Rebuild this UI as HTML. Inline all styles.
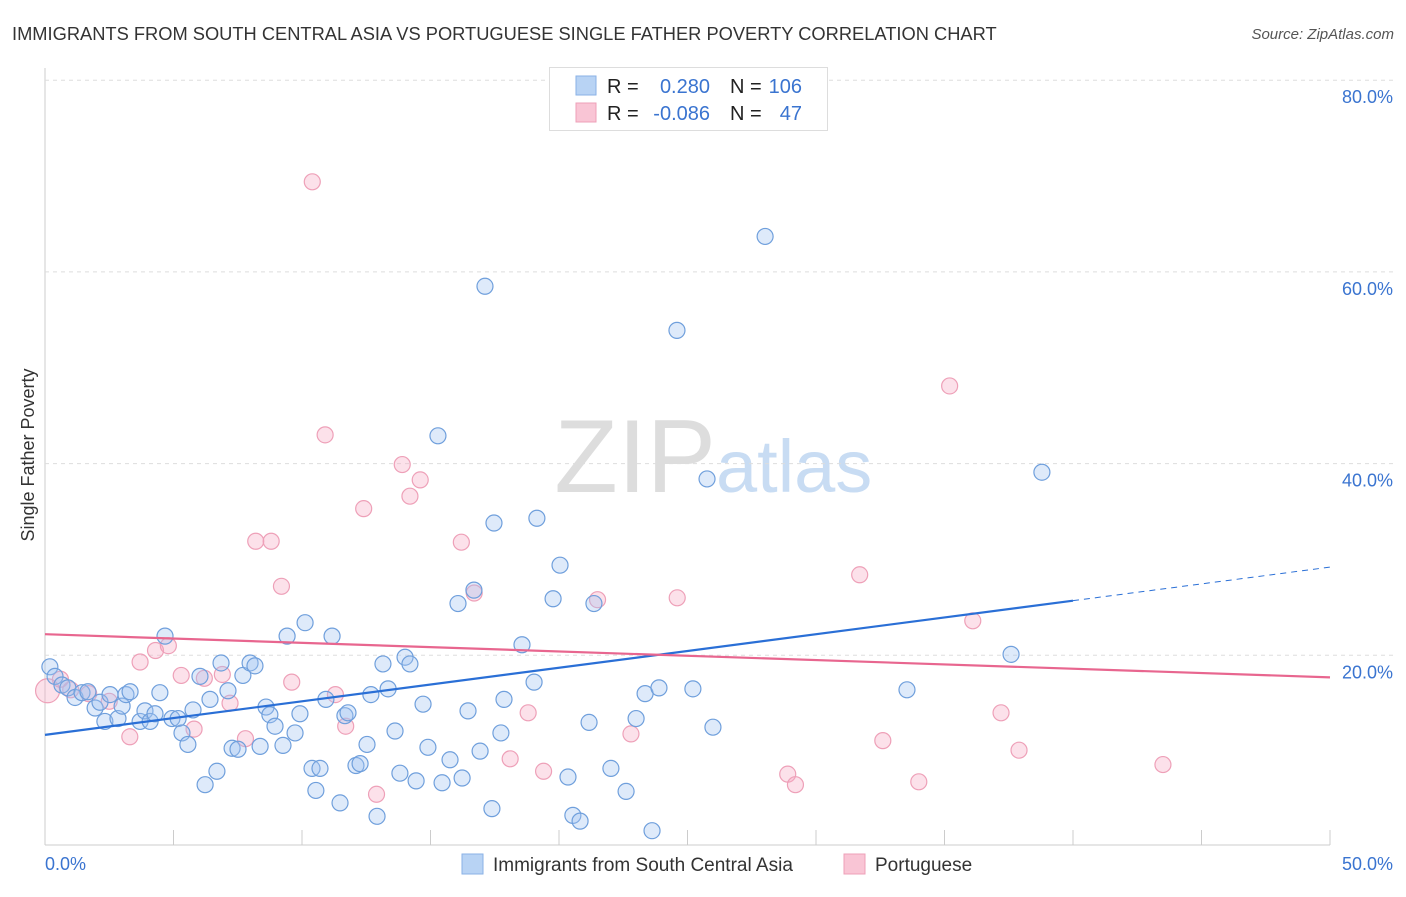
<!DOCTYPE html>
<html><head><meta charset="utf-8"><style>
body{margin:0;background:#fff;font-family:"Liberation Sans",sans-serif}
svg text{font-family:"Liberation Sans",sans-serif}
</style></head><body>
<svg id="c" width="1406" height="892" xmlns="http://www.w3.org/2000/svg">
<text x="12" y="40" font-size="18.3" fill="#333">IMMIGRANTS FROM SOUTH CENTRAL ASIA VS PORTUGUESE SINGLE FATHER POVERTY CORRELATION CHART</text>
<text x="1394" y="39" font-size="15" fill="#555" text-anchor="end" font-style="italic">Source: ZipAtlas.com</text>
<text x="716" y="492" font-size="104" fill="#ddd" text-anchor="end" font-family="Liberation Serif">ZIP</text>
<text x="716" y="492" font-size="74" fill="#c8dcf3">atlas</text>
<text transform="translate(34,455) rotate(-90)" font-size="18" fill="#333" text-anchor="middle">Single Father Poverty</text>
<g id="grid"></g><g id="ticks"></g><g id="pts"></g><g id="lines"></g>
<g>
<rect x="549.5" y="67.5" width="278" height="63" fill="#fff" stroke="#ddd"/>
<rect x="576" y="76" width="20" height="19" fill="#b8d3f4" stroke="#8ab2e6"/>
<rect x="576" y="103" width="20" height="19" fill="#f9c5d5" stroke="#eea0b8"/>
<text x="607" y="93" font-size="20" fill="#222">R =</text><text x="710" y="93" font-size="20" fill="#3a74d0" text-anchor="end">0.280</text>
<text x="730" y="93" font-size="20" fill="#222">N =</text><text x="802" y="93" font-size="20" fill="#3a74d0" text-anchor="end">106</text>
<text x="607" y="120" font-size="20" fill="#222">R =</text><text x="710" y="120" font-size="20" fill="#3a74d0" text-anchor="end">-0.086</text>
<text x="730" y="120" font-size="20" fill="#222">N =</text><text x="802" y="120" font-size="20" fill="#3a74d0" text-anchor="end">47</text>
</g>
<g>
<rect x="462" y="854" width="21" height="20" fill="#b8d3f4" stroke="#8ab2e6"/>
<text x="493" y="871" font-size="19" fill="#333">Immigrants from South Central Asia</text>
<rect x="844" y="854" width="21" height="20" fill="#f9c5d5" stroke="#eea0b8"/>
<text x="875" y="871" font-size="19" fill="#333">Portuguese</text>
</g>
<text x="45" y="870" font-size="18" fill="#3a74d0">0.0%</text>
<text x="1393" y="870" font-size="18" fill="#3a74d0" text-anchor="end">50.0%</text>
</svg>
<script>
const blueX=[0.19,0.39,0.66,0.89,1.17,1.44,1.67,1.95,2.14,2.33,2.53,2.84,3.0,3.15,3.31,3.7,3.89,4.09,4.28,4.47,4.67,4.94,5.18,5.33,5.56,5.76,6.03,6.23,6.42,6.69,6.85,7.12,7.28,7.51,7.7,7.98,8.17,8.37,8.6,8.75,8.95,9.26,9.42,9.73,9.92,10.12,10.39,10.54,10.7,10.93,11.17,11.48,11.67,11.79,12.1,12.26,12.53,12.68,12.92,13.15,13.35,13.62,13.81,14.01,14.2,14.44,14.71,14.9,15.29,15.45,15.76,16.07,16.23,16.46,16.69,16.93,17.12,17.39,17.47,17.74,17.86,18.56,19.03,19.14,19.77,20.04,20.35,20.54,20.82,21.17,21.36,22.02,22.61,23.0,23.35,23.62,23.89,24.59,25.21,25.76,25.99,28.02,33.54,37.59,38.79];
const blueY=[18.8,17.8,16.9,16.6,15.6,16.1,16.2,14.5,15.1,13.1,15.9,13.4,14.7,15.9,16.2,13.1,14.2,13.1,13.9,16.1,22.0,13.4,13.4,11.9,10.7,14.3,17.8,6.5,15.4,7.9,19.2,16.3,10.3,10.2,17.9,19.2,18.9,10.5,14.6,13.8,12.6,10.6,22.0,11.9,13.9,23.4,8.2,5.9,8.2,15.4,22.0,4.6,13.7,14.0,8.5,8.7,10.7,15.9,3.2,19.1,16.5,12.1,7.7,19.8,19.1,6.9,14.9,10.4,42.9,6.7,9.1,25.4,7.2,14.2,26.8,10.0,58.5,4.0,33.8,11.9,15.4,21.1,17.2,34.3,25.9,29.4,7.3,3.3,2.7,13.0,25.4,8.2,5.8,13.4,16.0,1.7,16.6,53.9,16.5,38.4,12.5,63.7,16.4,20.1,39.1];
const pinkX=[0.1,0.6,1.0,1.7,2.5,3.3,3.7,4.3,4.8,5.3,5.8,6.2,6.9,7.2,7.8,8.2,8.8,9.2,9.6,10.4,10.9,11.3,11.7,12.4,12.9,13.9,14.2,14.6,16.2,16.7,18.1,18.8,19.4,21.5,22.8,24.6,28.9,29.2,31.7,32.6,34.0,35.2,36.1,37.2,37.9,43.5];
const pinkY=[16.3,17.5,16.4,16.0,15.2,11.5,19.3,20.5,21.0,17.9,12.3,17.6,18.0,15.0,11.3,31.9,31.9,27.2,17.2,69.4,43.0,15.9,12.6,35.3,5.5,39.9,36.6,38.3,31.8,26.5,9.2,14.0,7.9,25.8,11.8,26.0,7.6,6.5,28.4,11.1,6.8,48.1,23.6,14.0,10.1,8.6];
const yTicks=[20,40,60,80];
const blueFit=[11.7,25.7];
const pinkFit=[22.2,17.7];
const NS="http://www.w3.org/2000/svg";
const X0=45,X1=1330,Y0=847,PY=9.585;
const sx=v=>X0+(X1-X0)*v/50, sy=v=>Y0-v*PY;
function mk(t,a,p){const e=document.createElementNS(NS,t);for(const k in a)e.setAttribute(k,a[k]);document.getElementById(p).appendChild(e);return e;}
const ax=mk('line',{x1:45,y1:68,x2:45,y2:845,stroke:'#ccc'},'grid');


const bx=mk('line',{x1:45,y1:845,x2:1330,y2:845,stroke:'#ccc'},'grid');


for(let i=1;i<=10;i++){const t=mk('line',{x1:sx(i*5),y1:830,x2:sx(i*5),y2:845,stroke:'#ccc'},'grid');

}
yTicks.forEach(v=>{const g=mk('line',{x1:45,y1:sy(v),x2:1395,y2:sy(v),stroke:'#ddd','stroke-dasharray':'4,4'},'grid');


const t=mk('text',{x:1393,y:sy(v)+23,'font-size':18,fill:'#3a74d0','text-anchor':'end'},'ticks');t.textContent=v.toFixed(1)+'%';

});
pinkX.forEach((x,i)=>{const c=mk('circle',{cx:sx(x),cy:sy(pinkY[i]),r:i==0?12:8,fill:'rgba(246,170,195,0.35)',stroke:'#eea0b8','stroke-width':1.2},'pts');

});
blueX.forEach((x,i)=>{const c=mk('circle',{cx:sx(x),cy:sy(blueY[i]),r:8,fill:'rgba(160,195,240,0.35)',stroke:'#6f9fdc','stroke-width':1.2},'pts');

});
const bl=v=>blueFit[0]+(blueFit[1]-blueFit[0])*v/40;
let l=mk('line',{x1:sx(0),y1:sy(bl(0)),x2:sx(40),y2:sy(bl(40)),stroke:'#2a6fd6','stroke-width':2.2},'lines');


l=mk('line',{x1:sx(40),y1:sy(bl(40)),x2:sx(50),y2:sy(bl(50)),stroke:'#2a6fd6','stroke-width':1,'stroke-dasharray':'6,5'},'lines');


l=mk('line',{x1:sx(0),y1:sy(pinkFit[0]),x2:sx(50),y2:sy(pinkFit[1]),stroke:'#e8668f','stroke-width':2.2},'lines');


</script>
</body></html>
